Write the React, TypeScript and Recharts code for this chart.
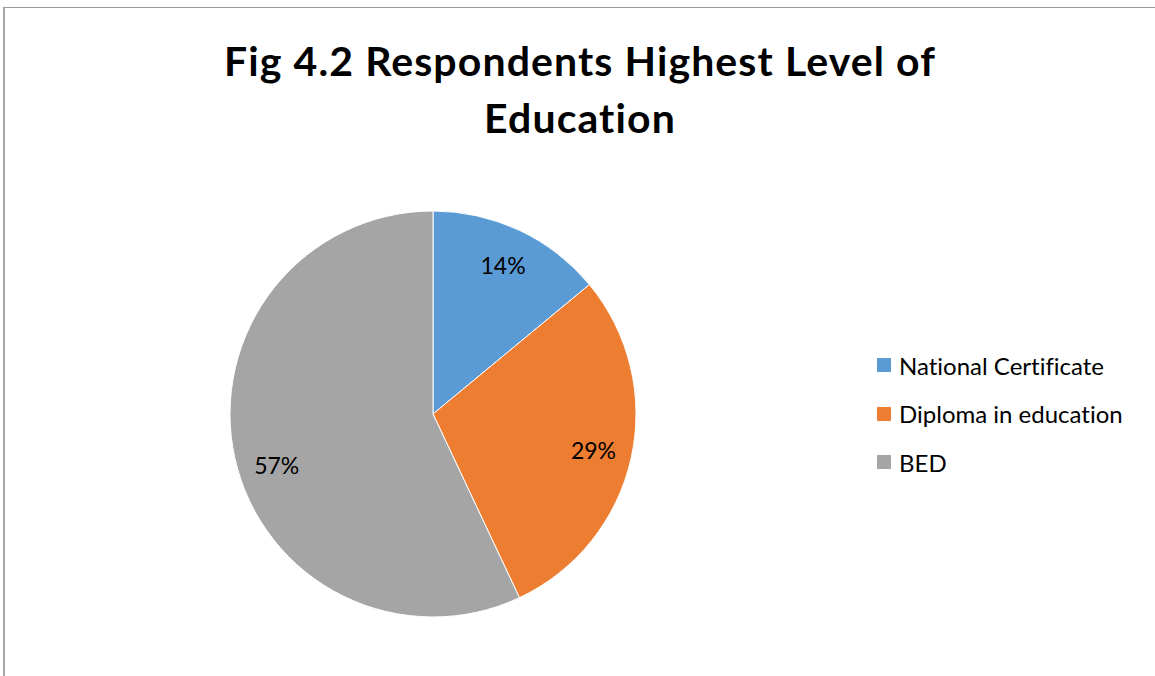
import { PieChart, Pie, Cell, Legend } from "recharts";

const categories = ["National Certificate", "Diploma in education", "BED"];
const shares = [14, 29, 57];
const colors = ["#5B9BD5", "#ED7D31", "#A5A5A5"];
const titleLines = ["Fig 4.2 Respondents Highest Level of", "Education"];

const data = categories.map((name, i) => ({ name, value: shares[i] }));

const FONT = "Lato, 'Open Sans', sans-serif";

const RAD = Math.PI / 180;

function renderLabel(props: any) {
  const { cx, cy, midAngle, outerRadius, value, index } = props;
  const r = outerRadius * 0.81;
  // Excel's best-fit nudges the big slice label a little lower
  const ang = midAngle + (index === 2 ? 5.5 : 0);
  const x = cx + r * Math.cos(-ang * RAD);
  const y = cy + r * Math.sin(-ang * RAD);
  return (
    <text
      x={x}
      y={y}
      fill="#000"
      fontSize={23}
      fontFamily={FONT}
      textAnchor="middle"
      dominantBaseline="central"
      style={{ fontVariantLigatures: "none" }}
    >
      {value}%
    </text>
  );
}

function LegendList({ payload }: any) {
  const items = [...(payload || [])].sort(
    (a: any, b: any) => categories.indexOf(a.value) - categories.indexOf(b.value)
  );
  return (
    <div style={{ fontFamily: FONT, fontSize: 24, color: "#000", fontVariantLigatures: "none" }}>
      {items.map((p: any) => (
        <div key={p.value} style={{ display: "flex", alignItems: "center", height: 48.5, whiteSpace: "nowrap" }}>
          <span style={{ width: 14, height: 14, background: p.color, marginRight: 8, flexShrink: 0 }} />
          <span>{p.value}</span>
        </div>
      ))}
    </div>
  );
}

export default function App() {
  return (
    <div style={{ position: "absolute", left: 0, top: 0, width: 1155, height: 676, background: "#fff", overflow: "hidden" }}>
      <div
        style={{
          position: "absolute",
          left: 3,
          top: 7,
          width: 1200,
          height: 700,
          borderTop: "1.5px solid #9a9a9a",
          borderLeft: "2px solid #a6a6a6",
        }}
      />
      <div style={{ position: "absolute", left: 0, top: 0 }}>
        <PieChart width={1155} height={676} margin={{ top: 0, right: 0, bottom: 0, left: 0 }}>
          <Pie
            data={data}
            dataKey="value"
            nameKey="name"
            cx={433}
            cy={414}
            outerRadius={203}
            startAngle={90}
            endAngle={-270}
            stroke="#fff"
            strokeWidth={1}
            label={renderLabel}
            labelLine={false}
            isAnimationActive={false}
          >
            {data.map((d, i) => (
              <Cell key={d.name} fill={colors[i]} />
            ))}
          </Pie>
          <Legend
            layout="vertical"
            verticalAlign="middle"
            align="right"
            content={<LegendList />}
            wrapperStyle={{ left: 877, top: 341, width: 275 }}
          />
        </PieChart>
      </div>
      <svg width={1155} height={676} style={{ position: "absolute", left: 0, top: 0, pointerEvents: "none" }}>
        {titleLines.map((line, i) => (
          <text
            key={line}
            x={580}
            y={76 + i * 57}
            textAnchor="middle"
            fontFamily={FONT}
            fontWeight={700}
            fontSize={41}
            letterSpacing={1.1}
            fill="#000"
            style={{ fontVariantLigatures: "none" }}
          >
            {line}
          </text>
        ))}
      </svg>
    </div>
  );
}
